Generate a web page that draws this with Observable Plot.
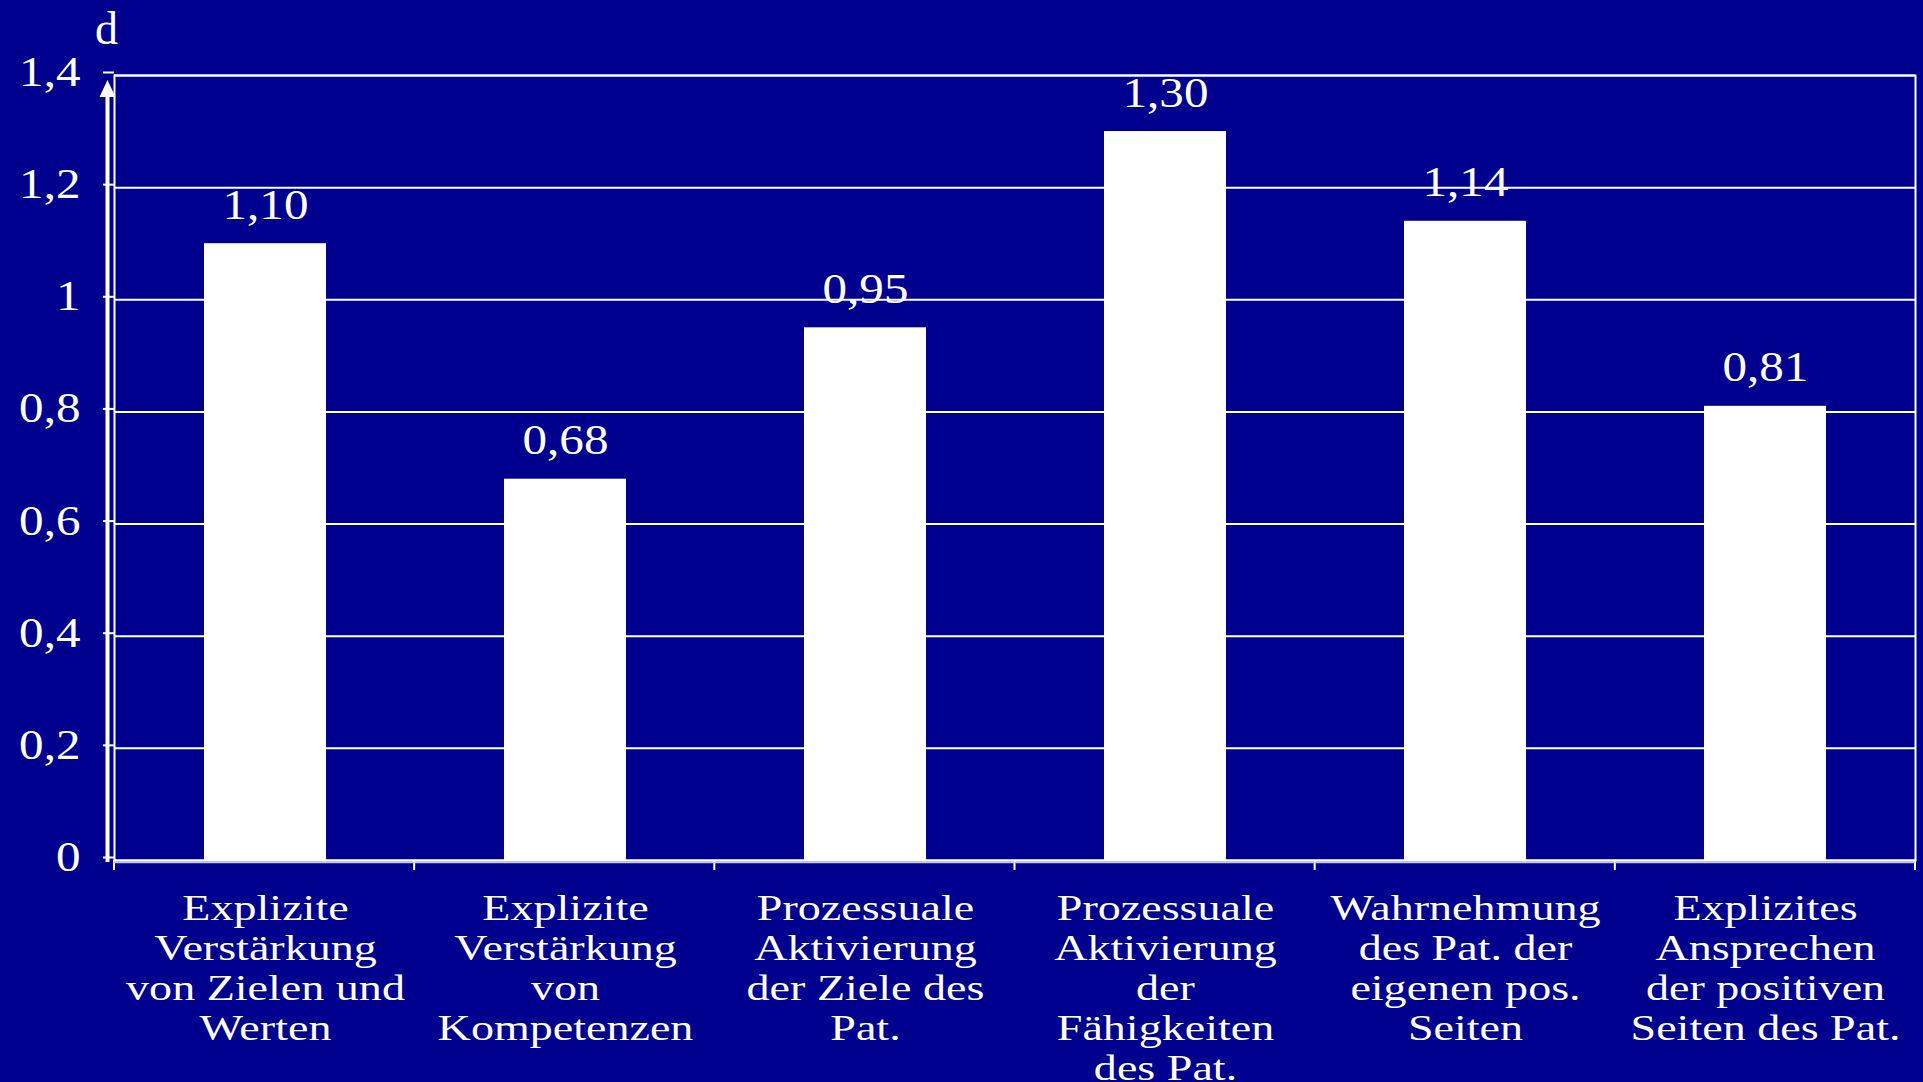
<!DOCTYPE html>
<html><head><meta charset="utf-8">
<script src="https://cdn.jsdelivr.net/npm/d3@7"></script>
<script src="https://cdn.jsdelivr.net/npm/@observablehq/plot@0.6"></script>
<style>
html,body{margin:0;padding:0;background:#00008e;overflow:hidden}
</style></head><body><div id="chart"></div>
<script>
const categories = [
  "Explizite\nVerstärkung\nvon Zielen und\nWerten",
  "Explizite\nVerstärkung\nvon\nKompetenzen",
  "Prozessuale\nAktivierung\nder Ziele des\nPat.",
  "Prozessuale\nAktivierung\nder\nFähigkeiten\ndes Pat.",
  "Wahrnehmung\ndes Pat. der\neigenen pos.\nSeiten",
  "Explizites\nAnsprechen\nder positiven\nSeiten des Pat."
];
const values = [1.10, 0.68, 0.95, 1.30, 1.14, 0.81];
const valueLabels = ["1,10", "0,68", "0,95", "1,30", "1,14", "0,81"];
const yTicks = [0, 0.2, 0.4, 0.6, 0.8, 1, 1.2, 1.4];
const yTickLabels = ["0", "0,2", "0,4", "0,6", "0,8", "1", "1,2", "1,4"];
const axisLabel = "d";

const data = categories.map((c, i) => ({category: c, value: values[i], label: valueLabels[i]}));
const FONT = "'Liberation Serif', 'Times New Roman', Times, serif";
const WHITE = "#ffffff";

// axis decorations: arrow on the left, ticks at category boundaries
function decor(index, scales, vals, dims) {
  const {y} = scales;
  const left = dims.marginLeft, right = dims.width - dims.marginRight;
  const y0 = y(yTicks[0]), yTop = y(yTicks[yTicks.length - 1]);
  const g = d3.create("svg:g");
  const n = categories.length;
  for (let i = 0; i <= n; i++) {
    const xx = left + i * (right - left) / n;
    g.append("line").attr("x1", xx).attr("x2", xx).attr("y1", y0).attr("y2", y0 + 10)
      .attr("stroke", WHITE).attr("stroke-width", 2);
  }
  const ax = left - 6.5;
  g.append("line").attr("x1", ax).attr("x2", ax).attr("y1", y0 + 2).attr("y2", yTop + 18)
    .attr("stroke", WHITE).attr("stroke-width", 4);
  g.append("path").attr("d", `M${ax},${yTop + 5} L${ax - 8},${yTop + 22} L${ax + 8},${yTop + 22} Z`)
    .attr("fill", WHITE);
  g.append("line").attr("x1", left).attr("x2", right).attr("y1", y0 + 2.5).attr("y2", y0 + 2.5)
    .attr("stroke", "#c8c8ff").attr("stroke-width", 1.5);
  return g.node();
}

const chart = Plot.plot({
  width: 1923,
  height: 1082,
  marginLeft: 114,
  marginRight: 8,
  marginTop: 75,
  marginBottom: 222,
  style: {background: "#00008e", color: WHITE, fontFamily: FONT},
  x: {domain: categories, paddingInner: 0.595, paddingOuter: 0.2975, label: null},
  y: {domain: [0, 1.4], label: null},
  marks: [
    Plot.ruleY(yTicks, {stroke: WHITE, strokeWidth: 2}),
    Plot.barY(data, {x: "category", y: "value", fill: WHITE}),
    Plot.frame({stroke: WHITE, strokeWidth: 2}),
    Plot.axisY(yTicks, {
      tickFormat: d => yTickLabels[yTicks.indexOf(d)],
      tickSize: 11, tickPadding: 23, fontSize: 42, color: WHITE, strokeWidth: 2,
      fontFamily: FONT, label: null, dy: -3
    }),
    Plot.axisX({
      tickSize: 0, tickPadding: 31, fontSize: 36, lineHeight: 40 / 36,
      color: WHITE, fontFamily: FONT, label: null
    }),
    Plot.text(data, {
      x: "category", y: "value", text: "label", dy: -25, lineAnchor: "bottom",
      fontSize: 42, fill: WHITE, fontFamily: FONT
    }),
    Plot.text([axisLabel], {
      frameAnchor: "top-left", text: d => d, dx: -8, dy: -32, lineAnchor: "bottom",
      textAnchor: "middle", fontSize: 46, fill: WHITE, fontFamily: FONT
    }),
    decor
  ]
});

// horizontal stretch of the lettering (the reference slide is widened)
const stretchEls = (els, s) => {
  els.forEach(t => {
    const tr = t.getAttribute("transform") || "";
    t.setAttribute("transform", `${tr} scale(${s},1)`);
  });
};
stretchEls(chart.querySelectorAll('g[aria-label="y-axis tick label"] text'), 1.17);
stretchEls(chart.querySelectorAll('g[aria-label="x-axis tick label"] text'), 1.28);
const textGroups = chart.querySelectorAll('g[aria-label="text"]');
if (textGroups.length) stretchEls(textGroups[0].querySelectorAll("text"), 1.17);
document.getElementById("chart").appendChild(chart);
</script>
</body></html>
